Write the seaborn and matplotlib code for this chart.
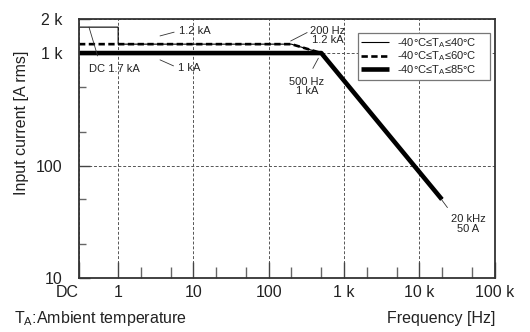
import matplotlib
matplotlib.use("Agg")
import pandas as pd
import seaborn as sns
import matplotlib.pyplot as plt
from matplotlib.ticker import FixedLocator, NullFormatter

sns.set_theme(style="ticks")
plt.rcParams['font.family'] = ['Liberation Sans', 'DejaVu Sans']
plt.rcParams['mathtext.default'] = 'regular'

# DC is drawn at the left end of the log axis
DC = 0.302

# -40..40 degC (thin), -40..60 degC (dashed), -40..85 degC (thick)
freq_40 = [DC, 1, 1, 200, 500, 20000]
curr_40 = [1700, 1700, 1200, 1200, 1000, 50]
freq_60 = [DC, 200, 500, 20000]
curr_60 = [1200, 1200, 1000, 50]
freq_85 = [DC, 500, 20000]
curr_85 = [1000, 1000, 50]

labels = ["-40°C≤T$_A$≤40°C", "-40°C≤T$_A$≤60°C", "-40°C≤T$_A$≤85°C"]

x_ticks = [DC, 1, 10, 100, 1e3, 1e4, 1e5]
x_ticklabels = ["DC", "1", "10", "100", "1 k", "10 k", "100 k"]
x_minor = [2, 5, 20, 50, 200, 500, 2e3, 5e3, 2e4, 5e4]
y_ticks = [10, 100, 1000, 2000]
y_ticklabels = ["10", "100", "1 k", "2 k"]
y_minor = [20, 50, 200, 500]

ink = "#222222"

fig = plt.figure(figsize=(5.3, 3.32), dpi=100)
ax = fig.add_axes([79/530, 1-278/332, 415.5/530, 258.8/332])

sns.lineplot(x=freq_40, y=curr_40, ax=ax, sort=False, estimator=None,
             color="black", linewidth=0.8)
sns.lineplot(x=freq_60, y=curr_60, ax=ax, sort=False, estimator=None,
             color="black", linewidth=1.9, linestyle=(0, (2.4, 1.3)))
sns.lineplot(x=freq_85, y=curr_85, ax=ax, sort=False, estimator=None,
             color="black", linewidth=3.3)
lines = ax.get_lines()
for ln in lines:
    ln.set_solid_capstyle("butt")
    ln.set_zorder(3)

ax.set_xscale("log")
ax.set_yscale("log")
ax.set_xlim(DC, 1e5)
ax.set_ylim(10, 2000)

ax.xaxis.set_major_locator(FixedLocator(x_ticks))
ax.set_xticklabels(x_ticklabels)
ax.xaxis.set_minor_locator(FixedLocator(x_minor))
ax.xaxis.set_minor_formatter(NullFormatter())
ax.yaxis.set_major_locator(FixedLocator(y_ticks))
ax.set_yticklabels(y_ticklabels)
ax.yaxis.set_minor_locator(FixedLocator(y_minor))
ax.yaxis.set_minor_formatter(NullFormatter())
ax.get_xticklabels()[0].set_horizontalalignment("right")

ax.tick_params(axis="x", which="major", direction="in", length=11.5, width=1,
               color="#444444", pad=5, labelsize=11.5, labelcolor=ink)
ax.tick_params(axis="x", which="minor", direction="in", length=8, width=1,
               color="#666666")
ax.tick_params(axis="y", which="major", direction="in", length=8, width=1,
               color="#444444", pad=12, labelsize=11.5, labelcolor=ink)
ax.tick_params(axis="y", which="minor", direction="in", length=5, width=1,
               color="#666666")

ax.grid(which="major", linestyle=(0, (3, 2)), linewidth=0.7, color="#555555")
for s in ax.spines.values():
    s.set_color("#333333")
    s.set_linewidth(1.3)
    s.set_zorder(4)

# trailing spaces give the right-hand padding seen in the original legend
leg = ax.legend(handles=lines, labels=[l + "    " for l in labels], loc="upper right",
                bbox_to_anchor=(490/530, 1-33/332), bbox_transform=fig.transFigure,
                fontsize=8.0, frameon=True, fancybox=False, framealpha=1,
                edgecolor="#777777", handlelength=2.5, handletextpad=0.75,
                labelspacing=-0.05, borderpad=0.3, borderaxespad=0)
leg.get_frame().set_linewidth(0.9)
leg.set_zorder(5)
for t in leg.get_texts():
    t.set_color(ink)

arrow = dict(arrowstyle="-", lw=0.6, color="#333333", shrinkB=0)
ann_kw = dict(textcoords="offset points", fontsize=8, color=ink, zorder=6)
ax.annotate("1.2 kA", xy=(3.6, 1420), xytext=(13.5, 3.6), ha="left", va="center",
            arrowprops=dict(arrow, shrinkA=1, relpos=(0, 0.5)), **ann_kw)
ax.annotate("DC 1.7 kA", xy=(0.41, 1700), xytext=(0, -30.5), ha="left", va="center",
            arrowprops=dict(arrow, shrinkA=4, relpos=(0.22, 1)), **ann_kw)
ax.annotate("1 kA", xy=(3.6, 870), xytext=(13, -5.8), ha="left", va="center",
            arrowprops=dict(arrow, shrinkA=1, relpos=(0, 0.5)), **ann_kw)
ax.annotate("200 Hz\n1.2 kA", xy=(196, 1280), xytext=(26.9, 4.0), ha="center",
            va="center", linespacing=0.95,
            arrowprops=dict(arrow, shrinkA=0, relpos=(0.05, 0.78)), **ann_kw)
ax.annotate("500 Hz\n1 kA", xy=(457, 900), xytext=(-8.4, -20.3), ha="center",
            va="center", linespacing=0.95,
            arrowprops=dict(arrow, shrinkA=4, relpos=(0.55, 1)), **ann_kw)
ax.annotate("20 kHz\n50 A", xy=(19500, 50.4), xytext=(19.4, -18), ha="center",
            va="center", linespacing=0.95,
            arrowprops=dict(arrow, shrinkA=3, relpos=(0.05, 1)), **ann_kw)

fig.text(22/530, 1-123/332, "Input current [A rms]", rotation=90, ha="center",
         va="center", fontsize=11.5, color=ink)
fig.text(14/530, 1-319/332, "T$_A$:Ambient temperature", ha="left", va="center",
         fontsize=11.5, color=ink)
fig.text(495/530, 1-319/332, "Frequency [Hz]", ha="right", va="center",
         fontsize=11.5, color=ink)

fig.savefig("out.png", dpi=100, facecolor="white")
